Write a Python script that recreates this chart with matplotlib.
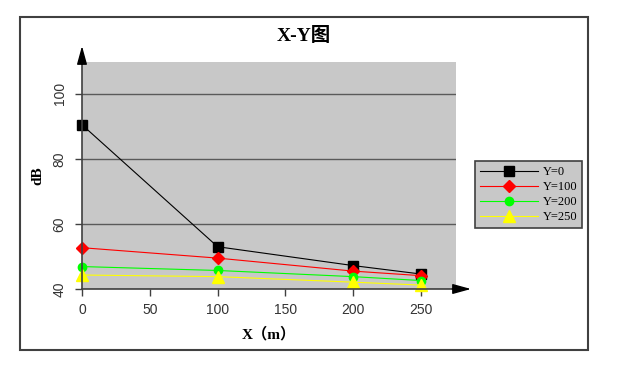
import matplotlib
matplotlib.use('Agg')
import matplotlib.pyplot as plt
from matplotlib.patches import Rectangle

# data
x = [0, 100, 200, 250]
y0 = [90.5, 53.0, 47.2, 44.6]
y100 = [52.7, 49.5, 45.5, 44.1]
y200 = [46.9, 45.7, 43.8, 42.6]
y250 = [44.3, 43.8, 42.1, 41.2]
labels = ['Y=0', 'Y=100', 'Y=200', 'Y=250']
xticks = [0, 50, 100, 150, 200, 250]
yticks = [40, 60, 80, 100]

W, H = 622, 373
fig = plt.figure(figsize=(W / 100, H / 100), dpi=100)
fig.patch.set_facecolor('white')

# outer frame
fig.patches.append(Rectangle((20 / W, 1 - 350 / H), 568 / W, 333 / H,
                             transform=fig.transFigure, fill=False,
                             edgecolor='#404040', lw=1.5))

ax = fig.add_axes([82 / W, 1 - 289 / H, 374 / W, 227 / H])
ax.set_facecolor('#c8c8c8')
ax.set_xlim(0, 275.8)
ax.set_ylim(40, 109.8)

ax.yaxis.grid(True, color='#5a5a5a', lw=1)
ax.set_axisbelow(True)

ax.plot(x, y0, color='black', lw=0.8, marker='s', ms=7, label=labels[0], clip_on=False)
ax.plot(x, y100, color='red', lw=0.8, marker='D', ms=6, label=labels[1], clip_on=False)
ax.plot(x, y200, color='#00ff00', lw=0.8, marker='o', ms=6, label=labels[2], clip_on=False)
ax.plot(x, y250, color='yellow', lw=0.8, marker='^', ms=8, label=labels[3], clip_on=False)

# spines
ax.spines['top'].set_visible(False)
ax.spines['right'].set_visible(False)
ax.spines['left'].set_color('#404040')
ax.spines['bottom'].set_color('#404040')
ax.spines['left'].set_linewidth(1.2)
ax.spines['bottom'].set_linewidth(1.2)

# arrows at the ends of the axes
arrow = dict(arrowstyle='-|>,head_length=0.8,head_width=0.22', color='black',
             lw=1, shrinkA=0, shrinkB=0, mutation_scale=14)
ax.annotate('', xy=(0, 1 + 16 / 227), xytext=(0, 0.99), xycoords='axes fraction',
            arrowprops=arrow, annotation_clip=False)
ax.annotate('', xy=(1 + 15 / 374, 0), xytext=(0.99, 0), xycoords='axes fraction',
            arrowprops=arrow, annotation_clip=False)

ax.set_xticks(xticks)
ax.set_yticks(yticks)
ax.tick_params(axis='both', direction='out', length=5, width=1, color='#404040',
               labelcolor='#333333', labelsize=10)
ax.tick_params(axis='y', pad=6)
ax.tick_params(axis='x', pad=5)
for t in ax.get_xticklabels() + ax.get_yticklabels():
    t.set_fontfamily('Liberation Sans')
for t in ax.get_yticklabels():
    t.set_rotation(90)
    t.set_va('center')

ax.set_xlabel('X（m）', fontsize=11, fontweight='bold',
              family=['Liberation Serif', 'Noto Sans CJK SC'], labelpad=7)
ax.set_ylabel('dB', fontsize=11, fontweight='bold', family='Liberation Serif', labelpad=6)

fig.text(304 / W, 1 - 36 / H, 'X-Y图', ha='center', va='center', fontsize=14,
         fontweight='bold', family=['Liberation Serif', 'Noto Sans CJK SC'])

leg = ax.legend(loc='upper left', bbox_to_anchor=(475 / W, 1 - 161 / H),
                bbox_transform=fig.transFigure, borderaxespad=0, fancybox=False,
                facecolor='#c8c8c8', edgecolor='#404040', framealpha=1,
                prop={'family': 'Liberation Serif', 'size': 9},
                handlelength=4.6, labelspacing=0.25, handletextpad=0.4,
                borderpad=0.4)
leg.get_frame().set_linewidth(1.2)

fig.savefig('out.png', dpi=100)
